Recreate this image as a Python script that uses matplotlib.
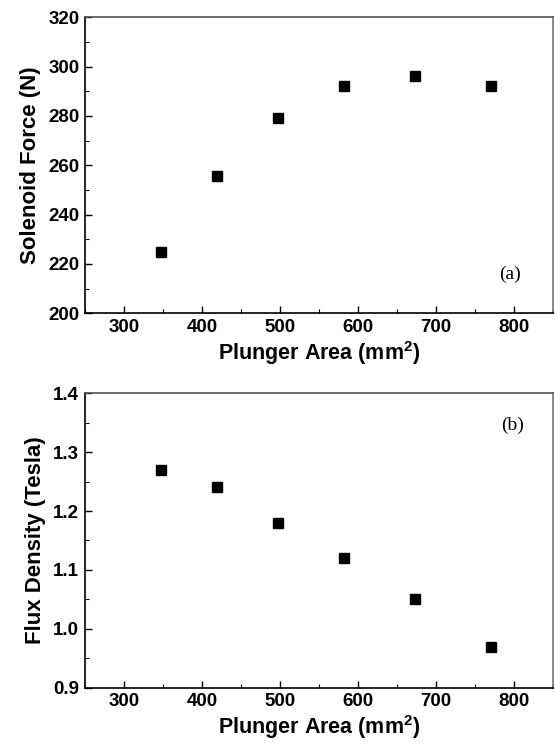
import matplotlib
matplotlib.use('Agg')
from matplotlib import pyplot as plt
from matplotlib.ticker import MultipleLocator, FormatStrFormatter

# data
area = [347, 419, 498, 582, 673, 771]
force = [224.7, 255.7, 279, 292.2, 296.3, 292.3]
flux = [1.27, 1.24, 1.18, 1.12, 1.05, 0.97]

plt.rcParams['font.family'] = ['Liberation Sans', 'DejaVu Sans']
plt.rcParams['font.weight'] = 'bold'
plt.rcParams['mathtext.fontset'] = 'custom'
plt.rcParams['mathtext.bf'] = 'Liberation Sans:bold'

fig = plt.figure(figsize=(5.55, 7.46), dpi=100)
ax1 = fig.add_axes([0.153, 0.580, 0.843, 0.397])
ax2 = fig.add_axes([0.153, 0.078, 0.843, 0.395])

def style(ax):
    ax.set_xlim(250, 850)
    ax.xaxis.set_major_locator(MultipleLocator(100))
    ax.xaxis.set_minor_locator(MultipleLocator(50))
    ax.tick_params(which='both', direction='in', top=False, right=False, labelsize=13.5)
    ax.tick_params(which='major', length=5, width=1, pad=4)
    ax.tick_params(which='minor', length=3, width=0.8)
    for s in ax.spines.values():
        s.set_linewidth(1.2)
    ax.spines['right'].set_color('#777777')
    ax.spines['top'].set_color('#555555')
    for lab in ax.get_xticklabels() + ax.get_yticklabels():
        lab.set_fontweight('bold')
    ax.set_xlabel('Plunger Area (mm$^\\mathbf{2}$)', fontsize=15.5, fontweight='bold', labelpad=2)

ax1.plot(area, force, 's', color='black', ms=7)
ax1.set_ylim(200, 320)
ax1.yaxis.set_major_locator(MultipleLocator(20))
ax1.yaxis.set_minor_locator(MultipleLocator(10))
style(ax1)
ax1.set_ylabel('Solenoid Force (N)', fontsize=16, fontweight='bold', labelpad=5)
ax1.text(0.908, 0.13, '(a)', transform=ax1.transAxes, ha='center', va='center',
         fontsize=14, fontweight='normal', family='Liberation Serif')

ax2.plot(area, flux, 's', color='black', ms=7)
ax2.set_ylim(0.9, 1.4)
ax2.yaxis.set_major_locator(MultipleLocator(0.1))
ax2.yaxis.set_minor_locator(MultipleLocator(0.05))
ax2.yaxis.set_major_formatter(FormatStrFormatter('%.1f'))
style(ax2)
ax2.set_ylabel('Flux Density (Tesla)', fontsize=16, fontweight='bold', labelpad=5)
ax2.text(0.915, 0.89, '(b)', transform=ax2.transAxes, ha='center', va='center',
         fontsize=14, fontweight='normal', family='Liberation Serif')

fig.savefig('out.png', dpi=100)
